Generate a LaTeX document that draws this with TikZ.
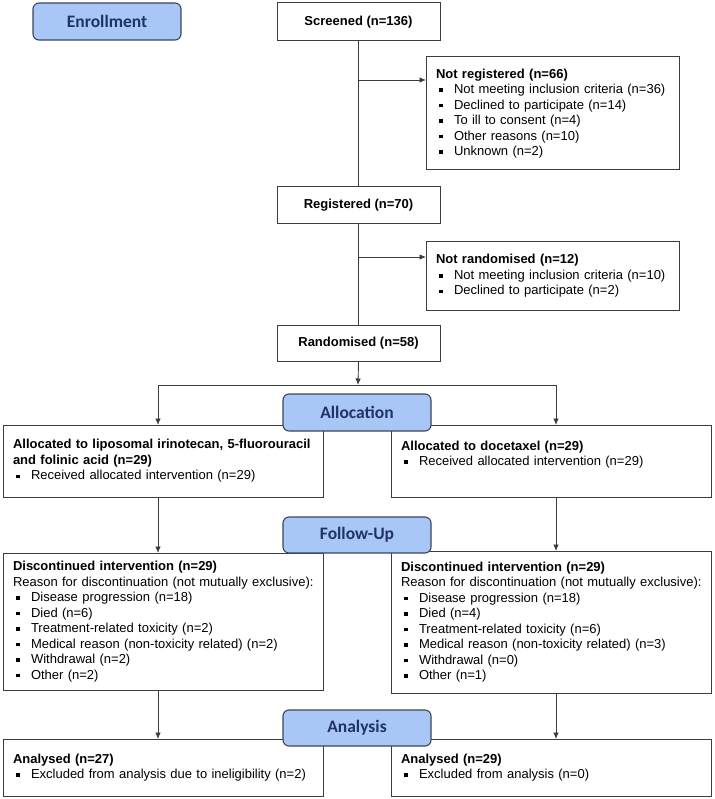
\documentclass[tikz,border=0pt]{standalone}
\usepackage{fontspec}
\setmainfont{Liberation Sans}
\newfontfamily\phfont{Carlito}
\usetikzlibrary{arrows.meta}
\definecolor{boxc}{RGB}{60,60,60}
\definecolor{phasef}{RGB}{168,198,246}
\definecolor{phasec}{RGB}{60,70,88}
\definecolor{phaset}{RGB}{31,52,98}
\newcommand\bul{\raisebox{1.7pt}{\rule{3.6pt}{3.6pt}}}
\newcommand\itm{\hspace*{3pt}\makebox[15pt][l]{\bul}}
\begin{document}
\begin{tikzpicture}[x=1pt,y=-1pt,
  box/.style={draw=boxc, line width=1pt, fill=white, anchor=north west, inner xsep=10pt, inner ysep=0pt, outer sep=0pt, align=left, font=\fontsize{13}{15.5}\selectfont},
  cbox/.style={draw=boxc, line width=1pt, fill=white, anchor=north west, inner sep=0pt, outer sep=0pt, align=center, font=\fontsize{13}{15.5}\selectfont\bfseries},
  phase/.style={draw=phasec, fill=phasef, rounded corners=6pt, line width=1.1pt, anchor=north west, inner sep=0pt, outer sep=0pt, text=phaset, font=\phfont\bfseries\fontsize{17.5}{20}\selectfont, minimum width=148pt, minimum height=37pt},
  conn/.style={draw=boxc, line width=0.9pt},
  arr/.style={conn, -{Latex[length=6.5pt,width=5.5pt]}}]
\useasboundingbox (0,0) rectangle (714,799);

% enrollment column
\node[cbox, minimum width=163pt, minimum height=38pt] (scr) at (277,3) {Screened (n=136)};
\node[box, minimum width=253pt, minimum height=113pt, text width=233pt] (nreg) at (426,57)
 {\textbf{Not registered (n=66)}\\
  \itm \mbox{Not meeting inclusion criteria (n=36)}\\
  \itm Declined to participate (n=14)\\
  \itm To ill to consent (n=4)\\
  \itm Other reasons (n=10)\\
  \itm Unknown (n=2)};
\node[cbox, minimum width=163pt, minimum height=37pt] (reg) at (277,187) {Registered (n=70)};
\node[box, minimum width=253pt, minimum height=68pt, text width=233pt] (nrand) at (426,242)
 {\textbf{Not randomised (n=12)}\\
  \itm \mbox{Not meeting inclusion criteria (n=10)}\\
  \itm Declined to participate (n=2)};
\node[cbox, minimum width=163pt, minimum height=36pt] (rand) at (277,325) {Randomised (n=58)};

% allocation
\node[box, minimum width=320pt, minimum height=72pt, text width=300pt] (alL) at (3,425)
 {\mbox{\textbf{Allocated to liposomal irinotecan, 5-fluorouracil}}\\
  \textbf{and folinic acid (n=29)}\\
  \itm Received allocated intervention (n=29)};
\node[box, minimum width=320pt, minimum height=72pt, text width=300pt] (alR) at (391,425)
 {\textbf{Allocated to docetaxel (n=29)}\\
  \itm Received allocated intervention (n=29)\\
  \mbox{}};

% follow-up
\node[box, minimum width=320pt, minimum height=137pt, text width=300pt] (dL) at (3,553)
 {\textbf{Discontinued intervention (n=29)}\\
  \mbox{Reason for discontinuation (not mutually exclusive):}\\
  \itm Disease progression (n=18)\\
  \itm Died (n=6)\\
  \itm Treatment-related toxicity (n=2)\\
  \itm \mbox{Medical reason (non-toxicity related) (n=2)}\\
  \itm Withdrawal (n=2)\\
  \itm Other (n=2)};
\node[box, minimum width=320pt, minimum height=142pt, text width=300pt] (dR) at (391,551)
 {\textbf{Discontinued intervention (n=29)}\\
  \mbox{Reason for discontinuation (not mutually exclusive):}\\
  \itm Disease progression (n=18)\\
  \itm Died (n=4)\\
  \itm Treatment-related toxicity (n=6)\\
  \itm \mbox{Medical reason (non-toxicity related) (n=3)}\\
  \itm Withdrawal (n=0)\\
  \itm Other (n=1)};

% analysis
\node[box, minimum width=320pt, minimum height=57pt, text width=300pt] (aL) at (3,739)
 {\textbf{Analysed (n=27)}\\
  \itm \mbox{Excluded from analysis due to ineligibility (n=2)}};
\node[box, minimum width=320pt, minimum height=57pt, text width=300pt] (aR) at (391,739)
 {\textbf{Analysed (n=29)}\\
  \itm Excluded from analysis (n=0)};

% connectors
\coordinate (j1) at (358,80);
\coordinate (j2) at (358,257);
\coordinate (sp) at (358,385);
\coordinate (spl) at (158,385);
\coordinate (spr) at (556,385);
\draw[conn] (scr.south) -- (reg.north);
\draw[arr] (j1) -- (j1 -| nreg.west);
\draw[conn] (reg.south) -- (rand.north);
\draw[arr] (j2) -- (j2 -| nrand.west);
\draw[arr] (rand.south) -- (sp);
\draw[conn] (spl) -- (spr);
\draw[arr] (spl) -- (spl |- alL.north);
\draw[arr] (spr) -- (spr |- alR.north);
\draw[arr] (spl |- alL.south) -- (spl |- dL.north);
\draw[arr] (spr |- alR.south) -- (spr |- dR.north);
\draw[arr] (spl |- dL.south) -- (spl |- aL.north);
\draw[arr] (spr |- dR.south) -- (spr |- aR.north);

% phase labels
\node[phase] (enr) at (33,3) {Enrollment};
\node[phase] (alloc) at (283,394) {Allocation};
\node[phase, minimum height=36pt] (fu) at (283,517) {Follow-Up};
\node[phase, minimum height=36pt] (ana) at (283,710) {Analysis};
\end{tikzpicture}
\end{document}
